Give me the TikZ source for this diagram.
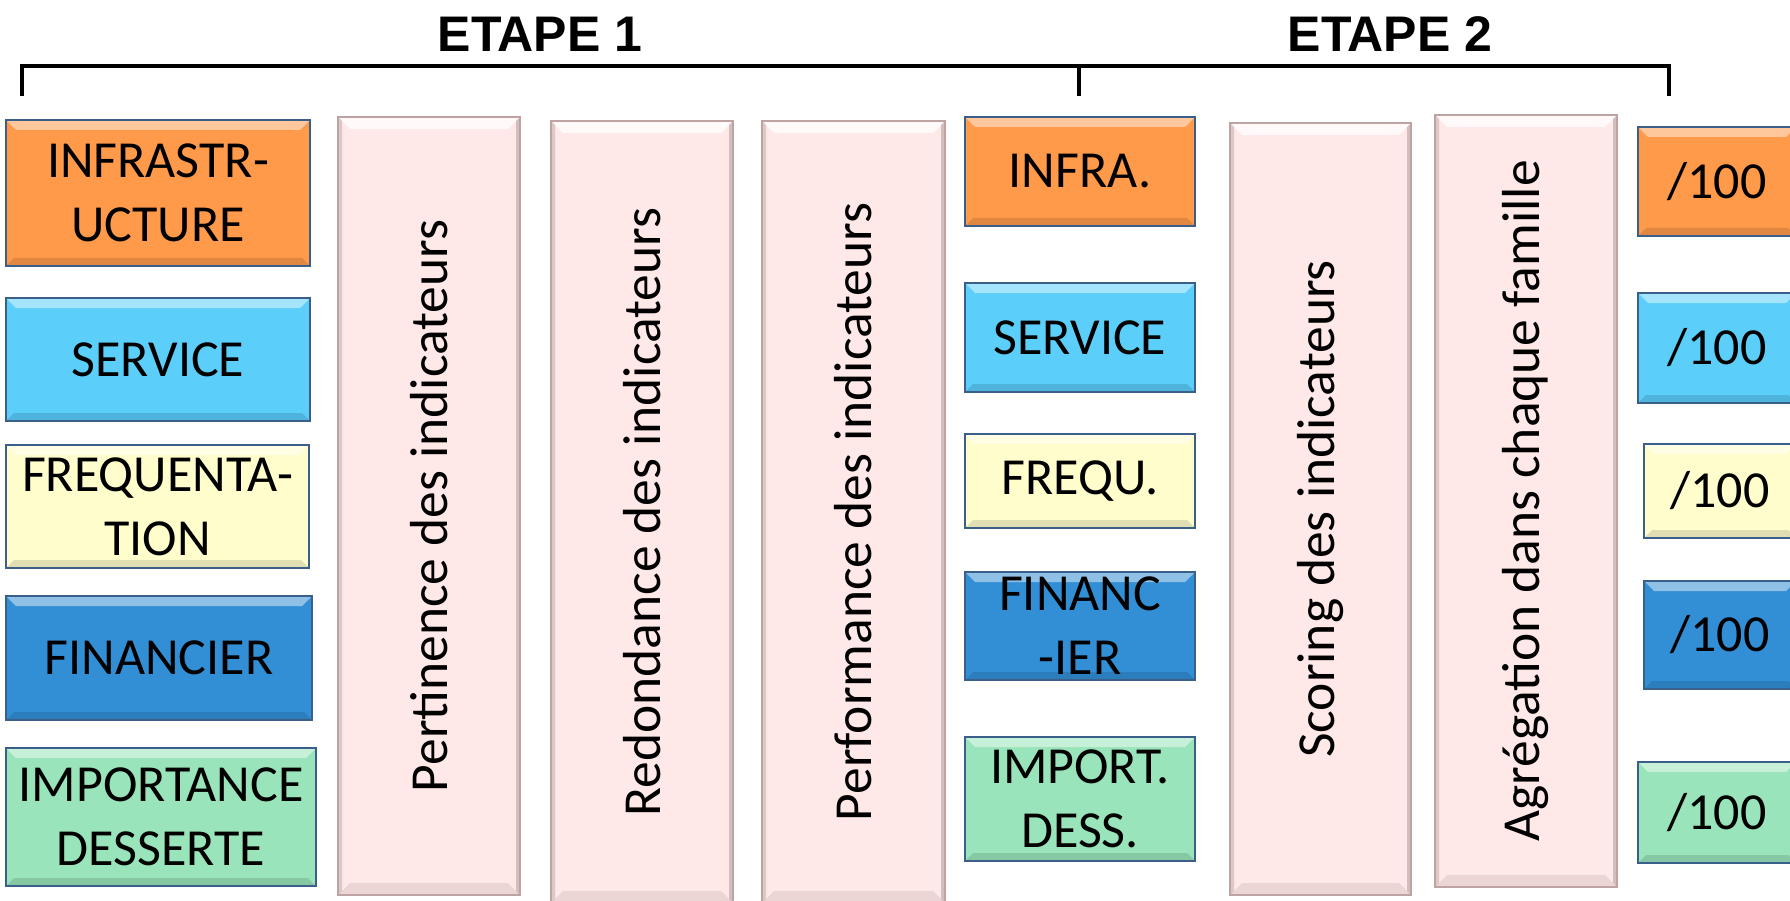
\documentclass[tikz,border=0pt]{standalone}
\usepackage{fontspec}
\setmainfont{Carlito}
\newfontfamily\headfont{Liberation Sans}
\usetikzlibrary{calc}
\definecolor{cOrange}{HTML}{FF9A4A}
\definecolor{cLight}{HTML}{5BCEFA}
\definecolor{cYellow}{HTML}{FFFDCC}
\definecolor{cBlue}{HTML}{338FD5}
\definecolor{cGreen}{HTML}{99E4BA}
\definecolor{boxborder}{HTML}{3A5F8B}
\definecolor{colfill}{HTML}{FFE9E8}
\definecolor{colborder}{HTML}{BFA3A3}
\tikzset{
  boxbevel/.style={path picture={
    \fill[white,opacity=0.45] (path picture bounding box.north west) -- (path picture bounding box.north east)
      -- ([shift={(-10pt,-10pt)}]path picture bounding box.north east) -- ([shift={(10pt,-10pt)}]path picture bounding box.north west) -- cycle;
    \fill[black,opacity=0.12] (path picture bounding box.south west) -- (path picture bounding box.south east)
      -- ([shift={(-8pt,8pt)}]path picture bounding box.south east) -- ([shift={(8pt,8pt)}]path picture bounding box.south west) -- cycle;
  }},
  colbevel/.style={path picture={
    \fill[white,opacity=0.75] (path picture bounding box.north west) -- (path picture bounding box.north east)
      -- ([shift={(-12pt,-12pt)}]path picture bounding box.north east) -- ([shift={(12pt,-12pt)}]path picture bounding box.north west) -- cycle;
    \fill[black,opacity=0.08] (path picture bounding box.south west) -- (path picture bounding box.south east)
      -- ([shift={(-12pt,12pt)}]path picture bounding box.south east) -- ([shift={(12pt,12pt)}]path picture bounding box.south west) -- cycle;
    \fill[black,opacity=0.14] (path picture bounding box.north west) -- ([shift={(4pt,-4pt)}]path picture bounding box.north west)
      -- ([shift={(4pt,4pt)}]path picture bounding box.south west) -- (path picture bounding box.south west) -- cycle;
    \fill[black,opacity=0.18] (path picture bounding box.north east) -- ([shift={(-4pt,-4pt)}]path picture bounding box.north east)
      -- ([shift={(-4pt,4pt)}]path picture bounding box.south east) -- (path picture bounding box.south east) -- cycle;
  }},
  famb/.style={draw=boxborder, line width=2.6pt, inner sep=0pt, align=center,
    font=\fontsize{52}{64}\selectfont, boxbevel},
  colb/.style={draw=colborder, line width=1.2pt, fill=colfill, inner sep=0pt, colbevel},
  coltext/.style={rotate=90, inner sep=0pt, font=\fontsize{53.5}{62}\selectfont},
  head/.style={anchor=base, inner sep=0pt, font={\headfont\bfseries\fontsize{50}{60}\selectfont}},
  brace/.style={line width=3.3pt},
}
\begin{document}
\begin{tikzpicture}[x=1pt,y=-1pt]
\useasboundingbox (0,0) rectangle (1790,901);
\clip (0,0) rectangle (1790,901);
\fill[white] (0,0) rectangle (1790,901);

% headings and bracket
\node[head] (e1) at (540,52) {ETAPE 1};
\node[head] (e2) at (1390,52) {ETAPE 2};
\coordinate (bl) at (22,96);
\coordinate (blt) at (22,66);
\coordinate (bm) at (1079,96);
\coordinate (bmt) at (1079,66);
\coordinate (br) at (1669,96);
\coordinate (brt) at (1669,66);
\draw[brace] (bl) -- (blt) -- (brt) -- (br);
\draw[brace] (bmt) -- (bm);

% left family boxes
\node[famb, fill=cOrange, minimum width=304pt, minimum height=146pt] (f1) at (158,193) {INFRASTR-\\UCTURE};
\node[famb, fill=cLight, minimum width=304pt, minimum height=123pt] (f2) at (158,359.5) {SERVICE};
\node[famb, fill=cYellow, minimum width=303pt, minimum height=123pt] (f3) at (157.5,506.5) {FREQUENTA-\\TION};
\node[famb, fill=cBlue, minimum width=306pt, minimum height=124pt] (f4) at (159,658) {FINANCIER};
\node[famb, fill=cGreen, minimum width=310pt, minimum height=138pt] (f5) at (161,817) {IMPORTANCE\\DESSERTE};

% columns
\node[colb, minimum width=182pt, minimum height=778pt] (c1) at (429,506) {};
\node[coltext] (t1) at (c1.center) {Pertinence des indicateurs};
\node[colb, minimum width=182pt, minimum height=782pt] (c2) at (642,512) {};
\node[coltext] (t2) at (c2.center) {Redondance des indicateurs};
\node[colb, minimum width=183pt, minimum height=782pt] (c3) at (853.5,512) {};
\node[coltext] (t3) at (c3.center) {Performance des indicateurs};

% middle family boxes
\node[famb, fill=cOrange, minimum width=230pt, minimum height=109pt] (g1) at (1080,171.5) {INFRA.};
\node[famb, fill=cLight, minimum width=230pt, minimum height=109pt] (g2) at (1080,337.5) {SERVICE};
\node[famb, fill=cYellow, minimum width=230pt, minimum height=94pt] (g3) at (1080,481) {FREQU.};
\node[famb, fill=cBlue, minimum width=230pt, minimum height=108pt] (g4) at (1080,626) {FINANC\\-IER};
\node[famb, fill=cGreen, minimum width=230pt, minimum height=124pt] (g5) at (1080,799) {IMPORT.\\DESS.};

% step 2 columns
\node[colb, minimum width=181pt, minimum height=772pt] (c4) at (1320.5,509) {};
\node[coltext] (t4) at (c4.center) {Scoring des indicateurs};
\node[colb, minimum width=182pt, minimum height=772pt] (c5) at (1526,501) {};
\node[coltext] (t5) at (c5.center) {Agrégation dans chaque famille};

% score boxes
\node[famb, fill=cOrange, minimum width=158pt, minimum height=109pt] (s1) at (1717,181.5) {/100};
\node[famb, fill=cLight, minimum width=158pt, minimum height=110pt] (s2) at (1717,348) {/100};
\node[famb, fill=cYellow, minimum width=152pt, minimum height=94pt] (s3) at (1720,491) {/100};
\node[famb, fill=cBlue, minimum width=152pt, minimum height=108pt] (s4) at (1720,635) {/100};
\node[famb, fill=cGreen, minimum width=158pt, minimum height=101pt] (s5) at (1717,812.5) {/100};
\end{tikzpicture}
\end{document}
